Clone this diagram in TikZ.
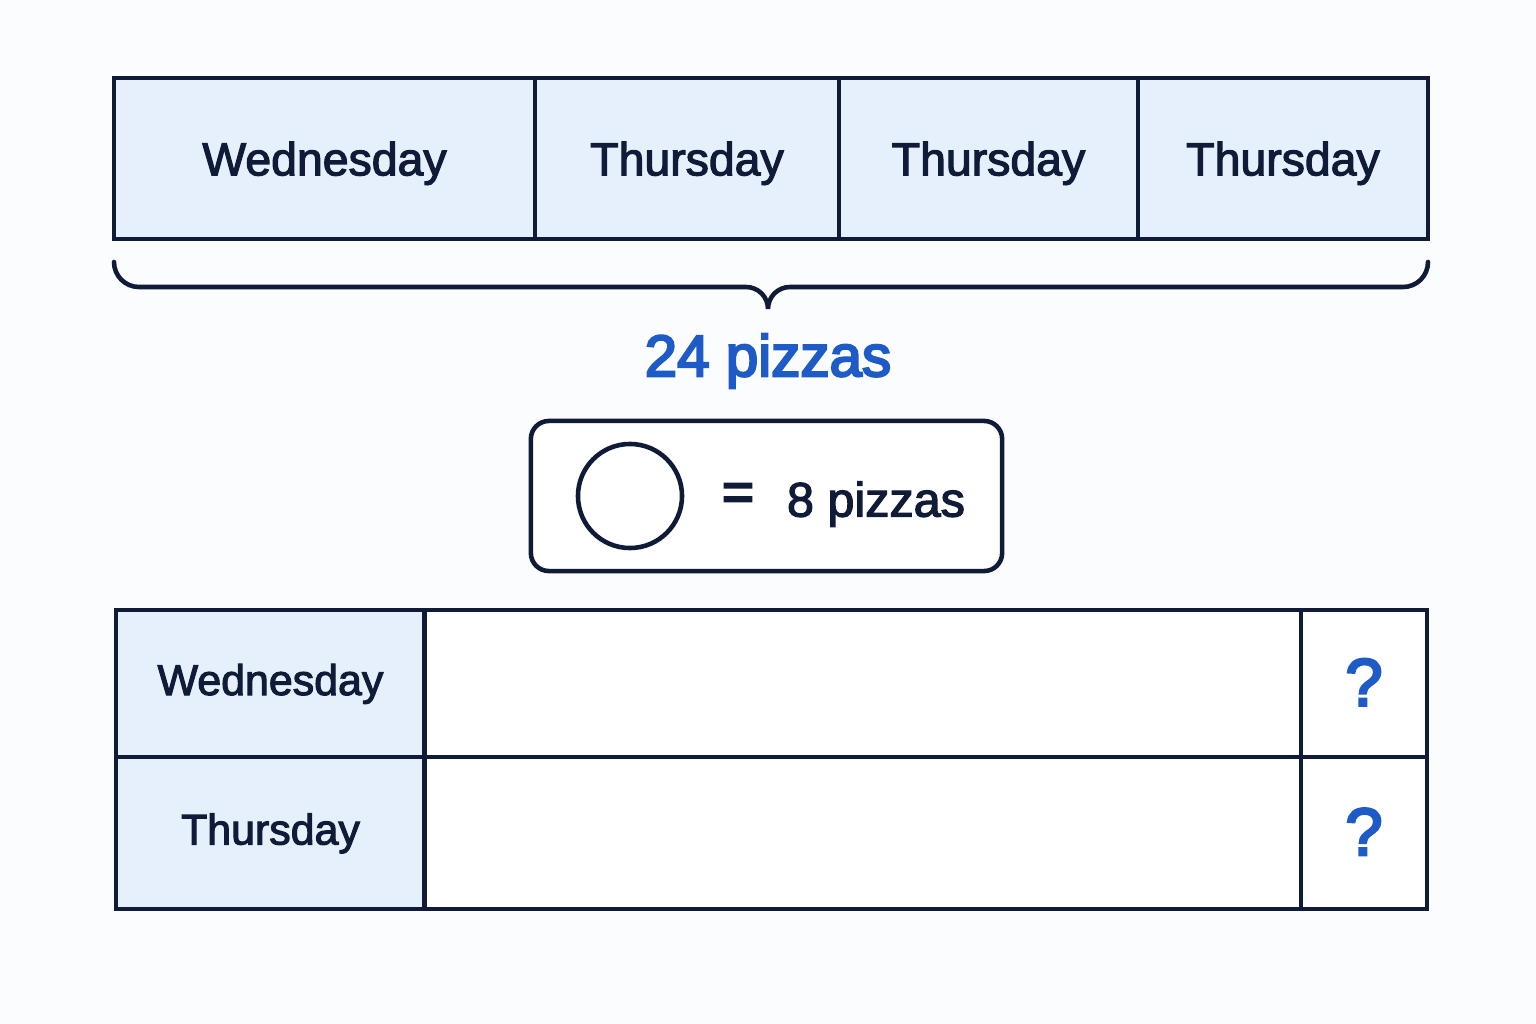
\documentclass[tikz,border=0pt]{standalone}
\usepackage{fontspec}
\setmainfont{Liberation Sans}
\newfontfamily\medfont{Liberation Sans}[FakeBold=2.5]
\newfontfamily\semifont{Liberation Sans}[FakeBold=3.8]
\usepackage{tikz}
\usetikzlibrary{shapes,calc}

\definecolor{navy}{HTML}{101B38}
\definecolor{cellblue}{HTML}{E6F0FC}
\definecolor{labelblue}{HTML}{1F5BC6}
\definecolor{paper}{HTML}{FBFCFE}

\begin{document}
\begin{tikzpicture}[x=0.01cm,y=-0.01cm]
    \tikzstyle{cell}=[
      rectangle,
      draw=navy,
      line width=1.3pt,
      anchor=center,
      inner sep=0pt,
      text depth=0pt,
      text=navy,
    ]
    \tikzstyle{daycell}=[
      cell,
      fill=cellblue,
      font=\medfont\fontsize{13.2}{16}\selectfont,
    ]
    \tikzstyle{rowday}=[
      daycell,
      minimum width=3.09cm,
      text height=0.23cm,
      font=\medfont\fontsize{12.2}{15}\selectfont,
    ]
    \tikzstyle{blank}=[
      cell,
      fill=white,
    ]
    \tikzstyle{ask}=[
      blank,
      minimum width=1.26cm,
      text height=0.44cm,
      text=labelblue,
      font=\semifont\fontsize{19}{22}\selectfont,
    ]
    \tikzstyle{brace}=[line width=1.3pt,draw=navy,line cap=round]

    \fill[paper] (0,0) rectangle (1536,1024);
    \useasboundingbox (0,0) rectangle (1536,1024);

    % top strip
    {
      \node[daycell,minimum width=4.21cm,minimum height=1.61cm] (top1) at (324.5,158.5) {Wednesday};
      \node[daycell,minimum width=3.04cm,minimum height=1.61cm] (top2) at (687,158.5) {Thursday};
      \node[daycell,minimum width=2.99cm,minimum height=1.61cm] (top3) at (988.5,158.5) {Thursday};
      \node[daycell,minimum width=2.90cm,minimum height=1.61cm] (top4) at (1283,158.5) {Thursday};
    }

    % brace and total
    {
      \coordinate (bl) at (114,262);
      \coordinate (br) at (1428,262);
      \coordinate (tip) at (768,309);
      \draw[brace] (bl) to[out=-90,in=180] (139,287) -- (746,287)
        to[out=0,in=90] (tip) to[out=90,in=180] (790,287) -- (1403,287)
        to[out=0,in=-90] (br);
      \node[text=labelblue,text depth=0pt,font=\semifont\fontsize{16.6}{19}\selectfont] (total) at (768,355) {24 pizzas};
    }

    % key
    {
      \node[draw=navy,line width=1.3pt,rounded corners=0.18cm,fill=white,
        minimum width=4.71cm,minimum height=1.50cm] (key) at (766.5,496) {};
      \node[circle,draw=navy,line width=1.3pt,minimum size=1.04cm,inner sep=0pt] (pizza) at (630,496) {};
      \node[text=navy,font=\semifont\fontsize{15.5}{18}\selectfont] (eq) at (738,497) {=};
      \node[text=navy,text depth=0pt,font=\medfont\fontsize{13.8}{16}\selectfont] (eight) at (876,499) {8 pizzas};
    }

    % table
    {
      \node[rowday,minimum height=1.47cm] (wed) at (270.5,683.5) {Wednesday};
      \node[blank,minimum width=8.76cm,minimum height=1.47cm] (wedbar) at (863,683.5) {};
      \node[ask,minimum height=1.47cm] (wedq) at (1364,683.5) {?};

      \node[rowday,minimum height=1.52cm] (thu) at (270.5,833) {Thursday};
      \node[blank,minimum width=8.76cm,minimum height=1.52cm] (thubar) at (863,833) {};
      \node[ask,minimum height=1.52cm] (thuq) at (1364,833) {?};
    }
\end{tikzpicture}
\end{document}
